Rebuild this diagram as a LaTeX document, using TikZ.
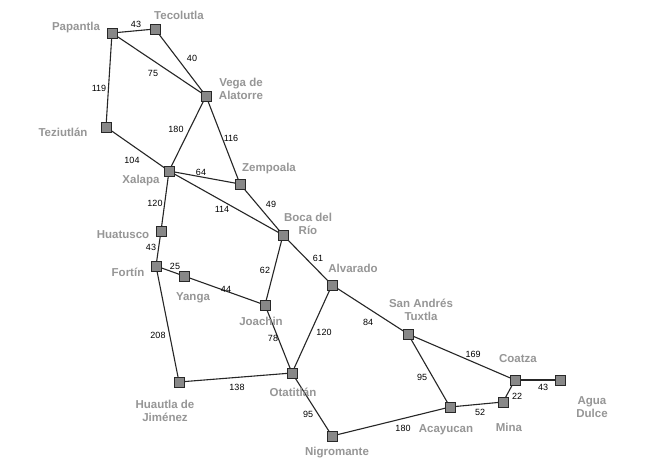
\documentclass[tikz,border=0pt]{standalone}
\usepackage{fontspec}
\setmainfont{Liberation Sans}
\definecolor{boxfill}{RGB}{136,136,136}
\definecolor{boxline}{RGB}{40,40,40}
\definecolor{lbl}{RGB}{150,150,150}
\begin{document}
\begin{tikzpicture}[x=1pt,y=-1pt,
  citybox/.style={draw=boxline,fill=boxfill,minimum size=10pt,inner sep=0pt,line width=0.9pt},
  cityname/.style={text=lbl,font=\fontsize{11.5}{13.5}\selectfont\bfseries,align=center,inner sep=0pt},
  distlbl/.style={text=black,font=\fontsize{9}{10}\selectfont,inner sep=0pt},
  road/.style={line width=1.1pt,draw=black!85}]
\useasboundingbox[fill=white] (0,0) rectangle (663,466);
\coordinate (cPap) at (112,33);
\coordinate (cTec) at (155,29);
\coordinate (cVeg) at (206,96);
\coordinate (cTez) at (106,127);
\coordinate (cXal) at (169,171);
\coordinate (cZem) at (240,184);
\coordinate (cBoc) at (283,235);
\coordinate (cHua) at (161,231);
\coordinate (cFor) at (156,266);
\coordinate (cYan) at (184,276);
\coordinate (cJoa) at (265,305);
\coordinate (cAlv) at (332,285);
\coordinate (cOta) at (292,373);
\coordinate (cHut) at (179,382);
\coordinate (cNig) at (332,436);
\coordinate (cSan) at (408,334);
\coordinate (cCoa) at (515,380);
\coordinate (cAgu) at (560,380);
\coordinate (cMin) at (503,402);
\coordinate (cAca) at (450,407);
\draw[road] (cPap) -- (cTec);
\draw[road] (cPap) -- (cVeg);
\draw[road] (cTec) -- (cVeg);
\draw[road] (cPap) -- (cTez);
\draw[road] (cTez) -- (cXal);
\draw[road] (cVeg) -- (cXal);
\draw[road] (cVeg) -- (cZem);
\draw[road] (cXal) -- (cZem);
\draw[road] (cZem) -- (cBoc);
\draw[road] (cXal) -- (cBoc);
\draw[road] (cXal) -- (cHua);
\draw[road] (cHua) -- (cFor);
\draw[road] (cFor) -- (cYan);
\draw[road] (cYan) -- (cJoa);
\draw[road] (cBoc) -- (cJoa);
\draw[road] (cBoc) -- (cAlv);
\draw[road] (cFor) -- (cHut);
\draw[road] (cJoa) -- (cOta);
\draw[road] (cAlv) -- (cOta);
\draw[road] (cHut) -- (cOta);
\draw[road] (cOta) -- (cNig);
\draw[road] (cAlv) -- (cSan);
\draw[road] (cSan) -- (cCoa);
\draw[road] (cSan) -- (cAca);
\draw[road] (cNig) -- (cAca);
\draw[road] (cAca) -- (cMin);
\draw[road] (cMin) -- (cCoa);
\draw[road] (cCoa) -- (cAgu);
\foreach \c in {Pap,Tec,Veg,Tez,Xal,Zem,Boc,Hua,For,Yan,Joa,Alv,Ota,Hut,Nig,San,Coa,Agu,Min,Aca}
  \node[citybox] (\c) at (c\c) {};
\node[cityname] (lPap) at (76,28) {Papantla};
\node[cityname] (lTec) at (179,15) {Tecolutla};
\node[cityname] (lVeg) at (241,89) {Vega de\\Alatorre};
\node[cityname] (lTez) at (63,132) {Teziutlán};
\node[cityname] (lXal) at (141,181) {Xalapa};
\node[cityname] (lZem) at (269,169) {Zempoala};
\node[cityname] (lBoc) at (308,224) {Boca del\\Río};
\node[cityname] (lHua) at (123,235) {Huatusco};
\node[cityname] (lFor) at (128,272) {Fortín};
\node[cityname] (lYan) at (193,298) {Yanga};
\node[cityname] (lJoa) at (261,321) {Joachin};
\node[cityname] (lAlv) at (353,268) {Alvarado};
\node[cityname] (lOta) at (293,392) {Otatitlán};
\node[cityname] (lHut) at (165,411) {Huautla de\\Jiménez};
\node[cityname] (lNig) at (337,453) {Nigromante};
\node[cityname] (lSan) at (421,310) {San Andrés\\Tuxtla};
\node[cityname] (lCoa) at (518,359) {Coatza};
\node[cityname] (lAgu) at (592,407) {Agua\\Dulce};
\node[cityname] (lMin) at (509,427) {Mina};
\node[cityname] (lAca) at (446,430) {Acayucan};
\node[distlbl] (d1) at (136,24) {43};
\node[distlbl] (d2) at (192,58) {40};
\node[distlbl] (d3) at (153,73) {75};
\node[distlbl] (d4) at (99,88) {119};
\node[distlbl] (d5) at (176,129) {180};
\node[distlbl] (d6) at (231,138) {116};
\node[distlbl] (d7) at (132,160) {104};
\node[distlbl] (d8) at (201,172) {64};
\node[distlbl] (d9) at (155,203) {120};
\node[distlbl] (d10) at (222,209) {114};
\node[distlbl] (d11) at (271,204) {49};
\node[distlbl] (d12) at (151,247) {43};
\node[distlbl] (d13) at (175,266) {25};
\node[distlbl] (d14) at (265,270) {62};
\node[distlbl] (d15) at (318,258) {61};
\node[distlbl] (d16) at (226,289) {44};
\node[distlbl] (d17) at (368,322) {84};
\node[distlbl] (d18) at (158,335) {208};
\node[distlbl] (d19) at (273,338) {78};
\node[distlbl] (d20) at (324,332) {120};
\node[distlbl] (d21) at (237,387) {138};
\node[distlbl] (d22) at (308,414) {95};
\node[distlbl] (d23) at (473,354) {169};
\node[distlbl] (d24) at (422,377) {95};
\node[distlbl] (d25) at (543,387) {43};
\node[distlbl] (d26) at (517,396) {22};
\node[distlbl] (d27) at (480,412) {52};
\node[distlbl] (d28) at (403,428) {180};
\end{tikzpicture}
\end{document}
